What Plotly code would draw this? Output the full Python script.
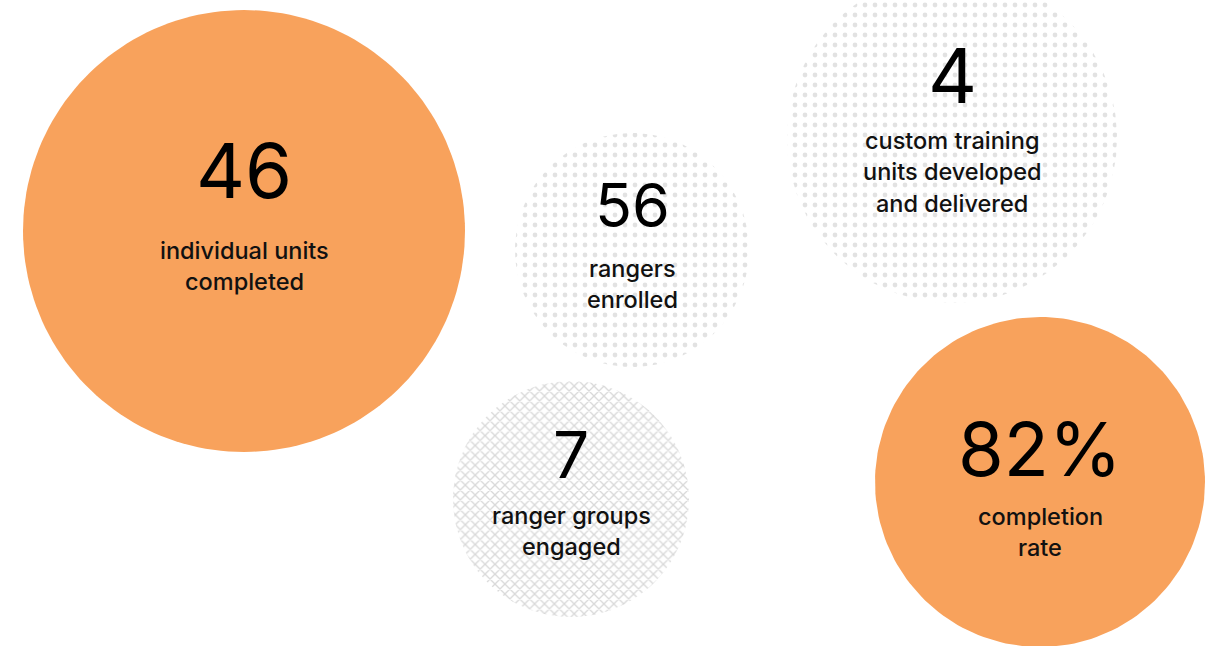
import numpy as np
import plotly.graph_objects as go

# Headline figures and their captions
values = ["46", "56", "4", "7", "82%"]
captions = [
    ["individual units", "completed"],
    ["rangers", "enrolled"],
    ["custom training", "units developed", "and delivered"],
    ["ranger groups", "engaged"],
    ["completion", "rate"],
]

# Bubble layout (pixel space): centre x, centre y, radius
cx = [244, 632, 952, 571, 1040]
cy = [231, 250, 138, 499, 482]
rad = [221, 117, 165, 118, 165]
fills = ["solid", "dots", "dots", "squiggle", "solid"]

# Text placement relative to bubble centre
num_dy = [-61, -45, -63, -45, -33]
num_size = [76, 61, 76, 64, 74]
cap_first_dy = [19, 18, 2, 16, 34]

ORANGE = "#F8A25C"
W, H = 1217, 646

fig = go.Figure()
theta = np.linspace(0, 2 * np.pi, 181)

for i in range(len(values)):
    xs = cx[i] + rad[i] * np.cos(theta)
    ys = cy[i] + rad[i] * np.sin(theta)
    kw = dict(x=xs, y=ys, mode="lines", fill="toself", line=dict(width=0),
              hoverinfo="skip", showlegend=False)
    if fills[i] == "solid":
        kw["fillcolor"] = ORANGE
    elif fills[i] == "dots":
        kw["fillcolor"] = "white"
        kw["fillpattern"] = dict(shape=".", fgcolor="#c6c6c6", bgcolor="white",
                                 size=10, solidity=0.18)
    else:
        kw["fillcolor"] = "white"
        kw["fillpattern"] = dict(shape="x", fgcolor="#b4b4b4", bgcolor="white",
                                 size=7, solidity=0.35)
    fig.add_trace(go.Scatter(**kw))

    fig.add_annotation(x=cx[i], y=cy[i] + num_dy[i], text=values[i],
                       showarrow=False, xanchor="center", yanchor="middle",
                       font=dict(family="Inter", size=num_size[i], color="#000000"))
    for j, line in enumerate(captions[i]):
        fig.add_annotation(x=cx[i], y=cy[i] + cap_first_dy[i] + 31.5 * j, text=line,
                           showarrow=False, xanchor="center", yanchor="middle",
                           font=dict(family="Inter", size=23.5, color="#111111",
                                     weight=500))

fig.update_layout(
    width=W, height=H,
    margin=dict(l=0, r=0, t=0, b=0),
    paper_bgcolor="white", plot_bgcolor="white",
    xaxis=dict(range=[0, W], visible=False, fixedrange=True),
    yaxis=dict(range=[H, 0], visible=False, fixedrange=True),
)

fig.write_html("out.html", config={"displayModeBar": False})
